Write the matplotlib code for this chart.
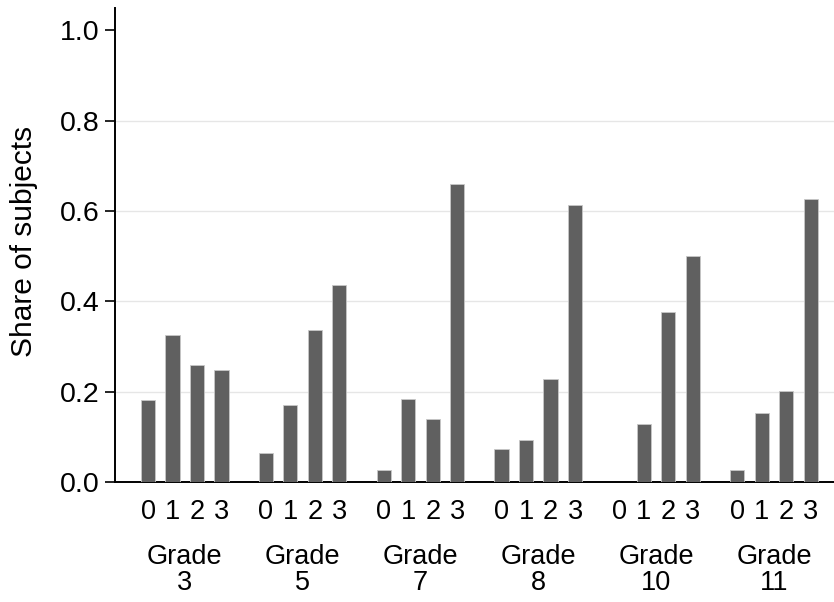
import numpy as np
import matplotlib.pyplot as plt

plt.rcParams['font.family'] = ['Liberation Sans', 'DejaVu Sans']

# share of subjects by category (0-3) within each grade
grades = ['3', '5', '7', '8', '10', '11']
categories = ['0', '1', '2', '3']
share_0 = [0.181, 0.065, 0.026, 0.072, 0.0, 0.026]
share_1 = [0.325, 0.170, 0.184, 0.092, 0.128, 0.152]
share_2 = [0.258, 0.336, 0.139, 0.229, 0.377, 0.202]
share_3 = [0.247, 0.436, 0.659, 0.614, 0.501, 0.627]

values = np.array([share_0, share_1, share_2, share_3]).T  # grade x category

group_step = 4.81
fig = plt.figure(figsize=(8.34, 6.02), dpi=100)
ax = fig.add_axes([0.1379, 0.1993, 0.8621, 0.7874])

positions = []
labels = []
for g, grade in enumerate(grades):
    xs = g * group_step + np.arange(len(categories))
    ax.bar(xs, values[g], width=0.58, color='#606060', edgecolor='#c8c8c8',
           linewidth=0.6, zorder=3)
    positions.extend(xs)
    labels.extend(categories)
    ax.text(xs.mean(), -0.13, 'Grade\n' + grade, transform=ax.get_xaxis_transform(),
            ha='center', va='top', fontsize=19.5, linespacing=1.0)

for y in [0.2, 0.4, 0.6, 0.8]:
    ax.axhline(y, color='#e6e6e6', linewidth=1.0, zorder=1)

ax.set_xlim(-1.347, 28.0)
ax.set_ylim(0, 1.049)
ax.set_yticks([0.0, 0.2, 0.4, 0.6, 0.8, 1.0])
ax.set_yticklabels(['0.0', '0.2', '0.4', '0.6', '0.8', '1.0'])
ax.tick_params(axis='y', length=7, width=1.2, labelsize=20.5, pad=4)
ax.set_xticks(positions)
ax.set_xticklabels(labels)
ax.tick_params(axis='x', length=0, labelsize=19.5, pad=12)

fig.text(24 / 834, 0.599, 'Share of subjects', rotation=90, ha='center',
         va='center', fontsize=21.5)

for side in ['top', 'right']:
    ax.spines[side].set_visible(False)
ax.spines['left'].set_linewidth(1.4)
ax.spines['bottom'].set_linewidth(1.4)

fig.savefig('out.png', dpi=100)
